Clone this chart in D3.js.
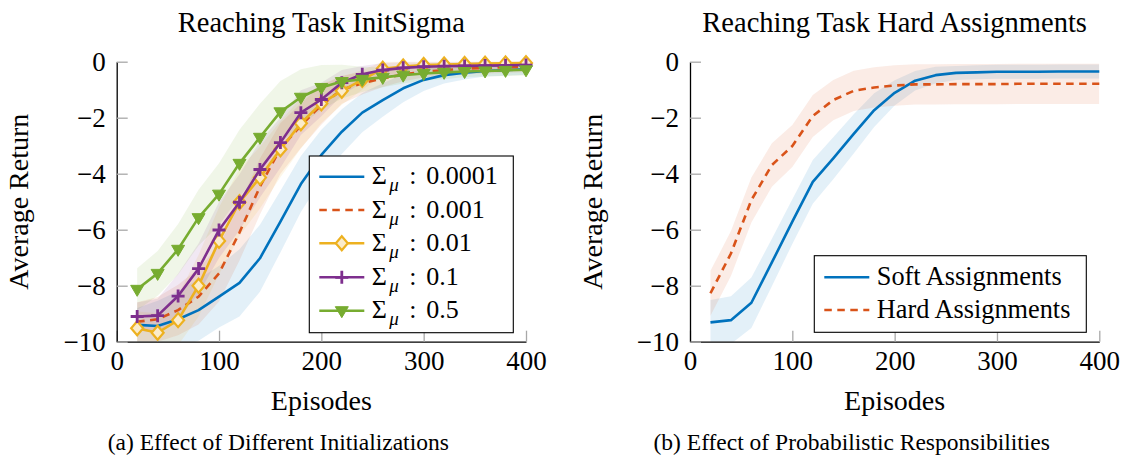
<!DOCTYPE html>
<html>
<head>
<meta charset="utf-8">
<script src="https://cdn.jsdelivr.net/npm/d3@7"></script>
<style>
  body { margin: 0; background: #fff; }
  svg text { font-family: "Liberation Serif", "Times New Roman", serif; fill: #000; }
</style>
</head>
<body>
<div id="chart"></div>
<script>

// x values shared by every series
var episodes = [20, 40, 60, 80, 100, 120, 140, 160, 180, 200, 220, 240, 260, 280, 300, 320, 340, 360, 380, 400];

// left panel: mean return and spread per initial sigma
var sig0001 = [-9.40, -9.44, -9.20, -8.87, -8.39, -7.90, -7.02, -5.71, -4.37, -3.33, -2.50, -1.82, -1.37, -0.95, -0.65, -0.48, -0.39, -0.33, -0.30, -0.27];
var sig0001Std = [0.6, 0.9, 1.0, 1.1, 1.1, 1.2, 1.2, 1.1, 1.0, 0.9, 0.8, 0.7, 0.6, 0.5, 0.4, 0.3, 0.25, 0.2, 0.2, 0.2];

var sig001 = [-9.29, -9.20, -8.87, -8.39, -7.56, -6.10, -4.46, -3.10, -2.28, -1.55, -1.00, -0.77, -0.60, -0.45, -0.36, -0.30, -0.25, -0.22, -0.20, -0.18];
var sig001Std = [0.7, 0.8, 0.9, 1.0, 1.0, 1.0, 1.0, 0.9, 0.8, 0.7, 0.5, 0.4, 0.3, 0.25, 0.2, 0.2, 0.2, 0.2, 0.2, 0.2];

var sig01 = [-9.52, -9.68, -9.23, -8.00, -6.40, -5.02, -4.14, -3.13, -2.20, -1.49, -1.04, -0.65, -0.25, -0.17, -0.12, -0.10, -0.08, -0.07, -0.06, -0.05];
var sig01Std = [0.6, 0.7, 0.9, 1.1, 1.2, 1.2, 1.1, 1.0, 0.9, 0.7, 0.5, 0.35, 0.25, 0.2, 0.15, 0.15, 0.15, 0.15, 0.15, 0.15];

var sig1 = [-9.10, -9.07, -8.37, -7.39, -6.01, -5.02, -3.85, -2.89, -1.82, -1.35, -0.75, -0.45, -0.30, -0.22, -0.18, -0.16, -0.15, -0.14, -0.13, -0.12];
var sig1Std = [0.5, 0.6, 0.8, 0.9, 1.0, 1.0, 1.0, 0.9, 0.8, 0.6, 0.45, 0.3, 0.25, 0.2, 0.15, 0.15, 0.15, 0.15, 0.15, 0.15];

var sig5 = [-8.13, -7.56, -6.70, -5.57, -4.73, -3.63, -2.70, -1.79, -1.27, -0.92, -0.71, -0.63, -0.56, -0.48, -0.42, -0.38, -0.35, -0.33, -0.31, -0.29];
var sig5Std = [0.75, 0.8, 0.9, 1.0, 1.1, 1.2, 1.2, 1.1, 1.0, 0.8, 0.6, 0.45, 0.35, 0.3, 0.25, 0.25, 0.2, 0.2, 0.2, 0.2];

var sigmaLabels = ["0.0001", "0.001", "0.01", "0.1", "0.5"];

// right panel: soft vs hard assignments
var soft = [-9.31, -9.23, -8.61, -7.17, -5.71, -4.29, -3.45, -2.58, -1.73, -1.11, -0.68, -0.48, -0.40, -0.38, -0.36, -0.36, -0.36, -0.35, -0.35, -0.35];
var softStd = [0.8, 0.85, 0.9, 0.85, 0.8, 0.78, 0.75, 0.7, 0.6, 0.45, 0.35, 0.3, 0.25, 0.25, 0.25, 0.25, 0.25, 0.25, 0.25, 0.25];

var hard = [-8.27, -6.85, -4.94, -3.69, -3.01, -1.94, -1.37, -1.04, -0.92, -0.85, -0.81, -0.81, -0.80, -0.80, -0.80, -0.79, -0.79, -0.79, -0.79, -0.79];
var hardStd = [0.8, 0.8, 0.8, 0.78, 0.75, 0.75, 0.72, 0.72, 0.72, 0.72, 0.72, 0.72, 0.72, 0.72, 0.72, 0.72, 0.72, 0.72, 0.72, 0.72];

var assignLabels = ["Soft Assignments", "Hard Assignments"];

var xTicks = [0, 100, 200, 300, 400];
var yTicks = [0, -2, -4, -6, -8, -10];

// colours (matlab default order)
var BLUE = "#0072BD", ORANGE = "#D95319", YELLOW = "#EDB120", PURPLE = "#7E2F8E", GREEN = "#77AC30";

// marker shapes, centred on 0,0
var MARKS = {
  diamond: "M0,-7L6,0L0,7L-6,0Z",
  plus: "M-6.5,0H6.5M0,-6.5V6.5",
  tri: "M-6.5,-4L6.5,-4L0,7Z"
};

var svg = d3.select("#chart").append("svg")
    .attr("width", 1123)
    .attr("height", 462);

var plotW = 409.3, plotTop = 61.7, plotBottom = 341.7;

function panel(cfg) {
  var x = d3.scaleLinear().domain([0, 400]).range([cfg.left, cfg.left + plotW]);
  var y = d3.scaleLinear().domain([-10, 0]).range([plotBottom, plotTop]);

  var g = svg.append("g");

  // clip the bands to the plot box
  g.append("clipPath").attr("id", cfg.id + "clip")
    .append("rect")
      .attr("x", x(0)).attr("y", y(0))
      .attr("width", x(400) - x(0)).attr("height", y(-10) - y(0));

  var band = function(s) {
    return d3.area()
      .x(function(d, i) { return x(episodes[i]); })
      .y0(function(d, i) { return y(d - s.std[i]); })
      .y1(function(d, i) { return y(d + s.std[i]); });
  };

  cfg.series.forEach(function(s) {
    g.append("path")
      .datum(s.mean)
      .attr("clip-path", "url(#" + cfg.id + "clip)")
      .attr("d", band(s))
      .attr("fill", s.color)
      .attr("fill-opacity", 0.11);
  });

  // axes, ticks point inwards
  var ax = g.append("g")
    .attr("transform", "translate(0," + plotBottom + ")")
    .call(d3.axisBottom(x).tickValues(xTicks).tickSize(-11).tickSizeOuter(0).tickPadding(9.4));
  var ay = g.append("g")
    .attr("transform", "translate(" + x(0) + ",0)")
    .call(d3.axisLeft(y).tickValues(yTicks).tickSize(-11).tickSizeOuter(0).tickPadding(11));

  [ax, ay].forEach(function(a) {
    a.select(".domain").attr("stroke", "#000").attr("stroke-width", 1.3);
    a.selectAll(".tick line").attr("stroke", "#a8a8a8").attr("stroke-width", 1.3);
    a.selectAll(".tick text").attr("font-size", "27px").attr("font-family", "Liberation Serif");
  });

  // lines + markers
  var line = d3.line()
    .x(function(d, i) { return x(episodes[i]); })
    .y(function(d) { return y(d); });

  cfg.series.forEach(function(s) {
    g.append("path")
      .datum(s.mean)
      .attr("d", line)
      .attr("fill", "none")
      .attr("stroke", s.color)
      .attr("stroke-width", 2.6)
      .attr("stroke-linejoin", "round")
      .attr("stroke-dasharray", s.dash ? "7.5,5.5" : null);

    if (s.mark) {
      g.selectAll(null)
        .data(s.mean)
        .enter().append("path")
          .attr("transform", function(d, i) { return "translate(" + x(episodes[i]) + "," + y(d) + ")"; })
          .attr("d", MARKS[s.mark])
          .call(markStyle, s);
    }
  });

  // titles and labels
  var cx = x(200);
  g.append("text").attr("x", cx).attr("y", 31.5)
    .attr("text-anchor", "middle").attr("font-size", "28.5px").text(cfg.title);
  g.append("text").attr("x", cx).attr("y", 410)
    .attr("text-anchor", "middle").attr("font-size", "28px").text("Episodes");
  g.append("text")
    .attr("transform", "translate(" + (x(0) - 88.4) + "," + y(-5) + ") rotate(-90)")
    .attr("text-anchor", "middle").attr("font-size", "28px").text("Average Return");
  g.append("text").attr("x", cfg.capX).attr("y", 450)
    .attr("text-anchor", "middle").attr("font-size", "23.5px").text(cfg.caption);

  // legend
  var L = cfg.legend;
  var lg = g.append("g");
  lg.append("rect")
    .attr("x", L.x).attr("y", L.y).attr("width", L.w).attr("height", L.h)
    .attr("fill", "#fff").attr("stroke", "#000").attr("stroke-width", 1.1);

  cfg.series.forEach(function(s, i) {
    var ry = L.rows[i];
    lg.append("line")
      .attr("x1", L.x + 10).attr("x2", L.x + 55)
      .attr("y1", ry).attr("y2", ry)
      .attr("stroke", s.color).attr("stroke-width", 2.6)
      .attr("stroke-dasharray", s.dash ? "7.5,5.5" : null);
    if (s.mark) {
      lg.append("path")
        .attr("transform", "translate(" + (L.x + 32.5) + "," + ry + ")")
        .attr("d", MARKS[s.mark])
        .call(markStyle, s);
    }
    if (cfg.sigma) {
      var t = lg.append("text").attr("y", ry + 7.5).attr("font-size", "26px");
      t.append("tspan").attr("x", L.x + 62.5).text("Σ");
      t.append("tspan").attr("x", L.x + 80).attr("dy", 7).attr("font-size", "19px").attr("font-style", "italic").text("μ");
      t.append("tspan").attr("x", L.x + 100).attr("dy", -7).text(":");
      t.append("tspan").attr("x", L.x + 117).text(s.label);
    } else {
      lg.append("text").attr("x", L.x + 62.5).attr("y", ry + 7.7)
        .attr("font-size", "26.3px").text(s.label);
    }
  });
}

function markStyle(sel, s) {
  if (s.mark === "plus") {
    sel.attr("fill", "none").attr("stroke", s.color).attr("stroke-width", 2.8);
  } else if (s.mark === "diamond") {
    sel.attr("fill", "#fbeccb").attr("stroke", s.color).attr("stroke-width", 2.2);
  } else {
    sel.attr("fill", s.color).attr("stroke", s.color).attr("stroke-width", 1);
  }
}

panel({
  id: "a",
  left: 116.7,
  title: "Reaching Task InitSigma",
  caption: "(a) Effect of Different Initializations",
  capX: 278.3,
  sigma: true,
  series: [
    {mean: sig0001, std: sig0001Std, color: BLUE, label: sigmaLabels[0]},
    {mean: sig001, std: sig001Std, color: ORANGE, dash: true, label: sigmaLabels[1]},
    {mean: sig01, std: sig01Std, color: YELLOW, mark: "diamond", label: sigmaLabels[2]},
    {mean: sig1, std: sig1Std, color: PURPLE, mark: "plus", label: sigmaLabels[3]},
    {mean: sig5, std: sig5Std, color: GREEN, mark: "tri", label: sigmaLabels[4]}
  ],
  legend: {x: 309.3, y: 156, w: 204, h: 176.7, rows: [176.7, 210, 243.3, 277.3, 310.7]}
});

panel({
  id: "b",
  left: 690,
  title: "Reaching Task Hard Assignments",
  caption: "(b) Effect of Probabilistic Responsibilities",
  capX: 851.7,
  sigma: false,
  series: [
    {mean: soft, std: softStd, color: BLUE, label: assignLabels[0]},
    {mean: hard, std: hardStd, color: ORANGE, dash: true, label: assignLabels[1]}
  ],
  legend: {x: 814.3, y: 255.7, w: 272, h: 76.6, rows: [277.3, 310]}
});

</script>
</body>
</html>
